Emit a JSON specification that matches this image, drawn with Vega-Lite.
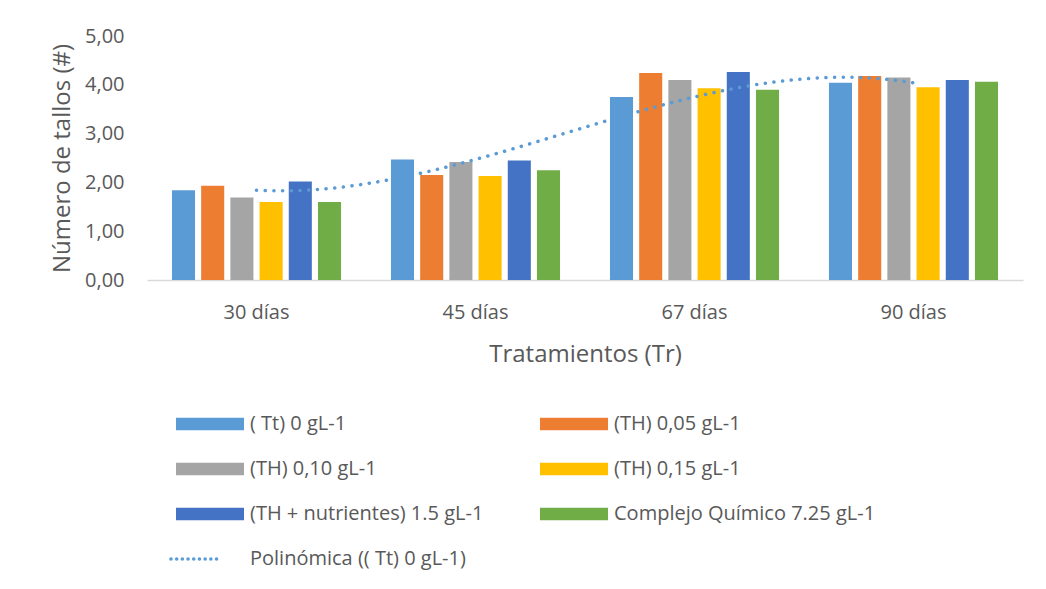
{
  "$schema": "https://vega.github.io/schema/vega-lite/v6.json",
  "width": 876,
  "height": 244,
  "autosize": {"type": "none"},
  "padding": {"left": 147, "top": 36, "right": 23, "bottom": 309},
  "background": "white",
  "config": {"view": {"stroke": null}, "font": "Open Sans"},
  "datasets": {
    "d": [
      {"dia": "30 días", "idx": 1, "serie": "( Tt) 0 gL-1", "v": 1.84},
      {"dia": "30 días", "idx": 1, "serie": "(TH) 0,05 gL-1", "v": 1.93},
      {"dia": "30 días", "idx": 1, "serie": "(TH) 0,10 gL-1", "v": 1.69},
      {"dia": "30 días", "idx": 1, "serie": "(TH)  0,15 gL-1", "v": 1.60},
      {"dia": "30 días", "idx": 1, "serie": "(TH + nutrientes) 1.5 gL-1", "v": 2.02},
      {"dia": "30 días", "idx": 1, "serie": "Complejo Químico 7.25 gL-1", "v": 1.60},
      {"dia": "45 días", "idx": 2, "serie": "( Tt) 0 gL-1", "v": 2.47},
      {"dia": "45 días", "idx": 2, "serie": "(TH) 0,05 gL-1", "v": 2.15},
      {"dia": "45 días", "idx": 2, "serie": "(TH) 0,10 gL-1", "v": 2.42},
      {"dia": "45 días", "idx": 2, "serie": "(TH)  0,15 gL-1", "v": 2.13},
      {"dia": "45 días", "idx": 2, "serie": "(TH + nutrientes) 1.5 gL-1", "v": 2.45},
      {"dia": "45 días", "idx": 2, "serie": "Complejo Químico 7.25 gL-1", "v": 2.25},
      {"dia": "67 días", "idx": 3, "serie": "( Tt) 0 gL-1", "v": 3.75},
      {"dia": "67 días", "idx": 3, "serie": "(TH) 0,05 gL-1", "v": 4.24},
      {"dia": "67 días", "idx": 3, "serie": "(TH) 0,10 gL-1", "v": 4.10},
      {"dia": "67 días", "idx": 3, "serie": "(TH)  0,15 gL-1", "v": 3.93},
      {"dia": "67 días", "idx": 3, "serie": "(TH + nutrientes) 1.5 gL-1", "v": 4.26},
      {"dia": "67 días", "idx": 3, "serie": "Complejo Químico 7.25 gL-1", "v": 3.90},
      {"dia": "90 días", "idx": 4, "serie": "( Tt) 0 gL-1", "v": 4.04},
      {"dia": "90 días", "idx": 4, "serie": "(TH) 0,05 gL-1", "v": 4.18},
      {"dia": "90 días", "idx": 4, "serie": "(TH) 0,10 gL-1", "v": 4.15},
      {"dia": "90 días", "idx": 4, "serie": "(TH)  0,15 gL-1", "v": 3.95},
      {"dia": "90 días", "idx": 4, "serie": "(TH + nutrientes) 1.5 gL-1", "v": 4.10},
      {"dia": "90 días", "idx": 4, "serie": "Complejo Químico 7.25 gL-1", "v": 4.06}
    ]
  },
  "data": {"name": "d"},
  "layer": [
    {
      "mark": {"type": "bar"},
      "encoding": {
        "x": {
          "field": "dia", "type": "nominal",
          "sort": ["30 días", "45 días", "67 días", "90 días"],
          "scale": {"paddingInner": 0.228, "paddingOuter": 0.114},
          "axis": {
            "title": "Tratamientos (Tr)", "labelAngle": 0,
            "domainColor": "#D9D9D9", "domainWidth": 1.5, "ticks": false,
            "labelFontSize": 20, "labelColor": "#595959", "labelPadding": 22,
            "titleFontSize": 24, "titleFontWeight": "normal", "titleColor": "#595959", "titlePadding": 20
          }
        },
        "xOffset": {
          "field": "serie", "type": "nominal",
          "sort": ["( Tt) 0 gL-1", "(TH) 0,05 gL-1", "(TH) 0,10 gL-1", "(TH)  0,15 gL-1", "(TH + nutrientes) 1.5 gL-1", "Complejo Químico 7.25 gL-1"],
          "scale": {"paddingInner": 0.21, "paddingOuter": 0}
        },
        "y": {
          "field": "v", "type": "quantitative",
          "scale": {"domain": [0, 5], "nice": false},
          "axis": {
            "values": [0, 1, 2, 3, 4, 5],
            "labelExpr": "replace(format(datum.value, '.2f'), '.', ',')",
            "domain": false, "ticks": false, "grid": false,
            "labelFontSize": 20, "labelColor": "#595959", "labelPadding": 23,
            "title": "Número de tallos (#)", "titleFontSize": 24, "titleFontWeight": "normal",
            "titleColor": "#595959", "titlePadding": 10
          }
        },
        "color": {
          "field": "serie", "type": "nominal",
          "scale": {
            "domain": ["( Tt) 0 gL-1", "(TH) 0,05 gL-1", "(TH) 0,10 gL-1", "(TH)  0,15 gL-1", "(TH + nutrientes) 1.5 gL-1", "Complejo Químico 7.25 gL-1", "Polinómica (( Tt) 0 gL-1)"],
            "range": ["#5B9BD5", "#ED7D31", "#A5A5A5", "#FFC000", "#4472C4", "#70AD47", "#5B9BD5"]
          },
          "legend": {
            "orient": "none", "legendX": 53, "legendY": 378, "columns": 2, "direction": "horizontal", "title": null,
            "padding": 0, "columnPadding": 56, "rowPadding": 25,
            "symbolType": "M-1,-0.186H1V0.186H-1Z", "symbolSize": 4624, "symbolStrokeWidth": 0,
            "labelFontSize": 20, "labelColor": "#595959", "labelOffset": 30, "labelLimit": 400,
            "encode": {
              "symbols": {
                "update": {
                  "shape": {"signal": "datum.value === 'Polinómica (( Tt) 0 gL-1)' ? 'M-1.15,0H0.2' : 'M-1,-0.186H1V0.186H-1Z'"},
                  "fillOpacity": {"signal": "datum.value === 'Polinómica (( Tt) 0 gL-1)' ? 0 : 1"},
                  "stroke": {"value": "#5B9BD5"},
                  "strokeWidth": {"signal": "datum.value === 'Polinómica (( Tt) 0 gL-1)' ? 3.5 : 0"},
                  "strokeDash": {"signal": "datum.value === 'Polinómica (( Tt) 0 gL-1)' ? [0.1, 5.6] : [1, 0]"},
                  "strokeCap": {"value": "round"}
                }
              }
            }
          }
        }
      }
    },
    {
      "transform": [
        {"filter": "datum.serie === '( Tt) 0 gL-1'"},
        {"regression": "v", "on": "idx", "method": "poly", "order": 3}
      ],
      "mark": {"type": "line", "strokeDash": [0.1, 8.6], "strokeCap": "round", "strokeWidth": 3.5},
      "encoding": {
        "x": {"field": "idx", "type": "quantitative", "scale": {"domain": [0.5, 4.5], "nice": false, "zero": false}, "axis": null},
        "y": {"field": "v", "type": "quantitative"},
        "color": {"datum": "Polinómica (( Tt) 0 gL-1)"}
      }
    }
  ],
  "resolve": {"scale": {"x": "independent"}}
}
